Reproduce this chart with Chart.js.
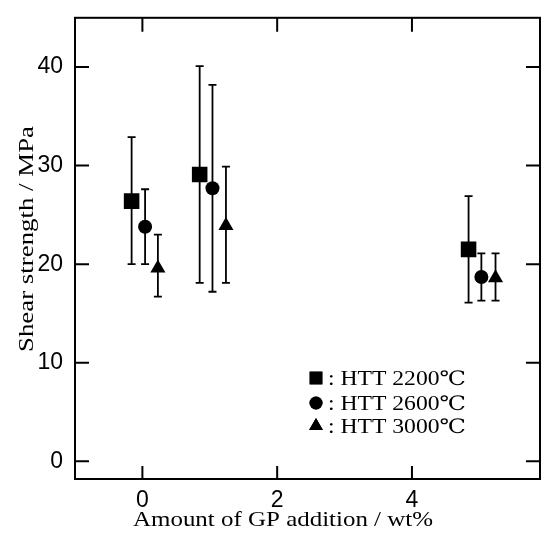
<!DOCTYPE html>
<html>
<head>
<meta charset="utf-8">
<script src="https://cdn.jsdelivr.net/npm/chart.js@4.4.1/dist/chart.umd.min.js"></script>
<style>
  html, body { margin: 0; padding: 0; background: #fff; }
  #wrap { width: 551px; height: 537px; }
</style>
</head>
<body>
<div id="wrap"><canvas id="c"></canvas></div>
<script>
// values
var seriesNames = [ 'HTT 2200\u2103', 'HTT 2600\u2103', 'HTT 3000\u2103' ];
var pointStyles = [ 'rect', 'circle', 'triangle' ];

var x2200  = [ -0.16, 0.85, 4.84 ];
var y2200  = [ 26.4, 29.1, 21.5 ];
var hi2200 = [ 32.9, 40.1, 26.9 ];
var lo2200 = [ 20.0, 18.1, 16.1 ];

var x2600  = [ 0.04, 1.04, 5.03 ];
var y2600  = [ 23.8, 27.7, 18.7 ];
var hi2600 = [ 27.6, 38.2, 21.1 ];
var lo2600 = [ 20.0, 17.2, 16.3 ];

var x3000  = [ 0.23, 1.24, 5.24 ];
var y3000  = [ 19.6, 23.9, 18.6 ];
var hi3000 = [ 23.0, 29.9, 21.1 ];
var lo3000 = [ 16.7, 18.1, 16.3 ];

var xTicks = [ 0, 2, 4 ];
var yTicks = [ 0, 10, 20, 30, 40 ];

function points( xs, ys, his, los ) {
    return xs.map( function( x, i ) {
        return { x: x, y: ys[ i ], hi: his[ i ], lo: los[ i ] };
    });
}

var sets = [
    points( x2200, y2200, hi2200, lo2200 ),
    points( x2600, y2600, hi2600, lo2600 ),
    points( x3000, y3000, hi3000, lo3000 )
];
var radii = [ 11, 7, 8.7 ];

/** Draw text stretched sideways to a given width (the scan is wide) */
function wideText( ctx, text, x, y, width ) {
    var w = ctx.measureText( text ).width;
    ctx.save();
    ctx.translate( x, y );
    ctx.scale( width / w, 1 );
    ctx.fillText( text, 0, 0 );
    ctx.restore();
}

/** Error bars, frame, inward ticks, titles and the in-plot key */
var decor = {
    id: 'decor',
    beforeDatasetsDraw: function( chart ) {
        var ctx = chart.ctx, xs = chart.scales.x, ys = chart.scales.y;
        ctx.save();
        ctx.strokeStyle = '#000';
        ctx.lineWidth = 1.8;
        chart.data.datasets.forEach( function( ds ) {
            ds.data.forEach( function( p ) {
                var px = xs.getPixelForValue( p.x );
                var top = ys.getPixelForValue( p.hi );
                var bot = ys.getPixelForValue( p.lo );
                ctx.beginPath();
                ctx.moveTo( px, top ); ctx.lineTo( px, bot );
                ctx.moveTo( px - 4, top ); ctx.lineTo( px + 4, top );
                ctx.moveTo( px - 4, bot ); ctx.lineTo( px + 4, bot );
                ctx.stroke();
            });
        });
        ctx.restore();
    },
    afterDraw: function( chart ) {
        var ctx = chart.ctx, a = chart.chartArea;
        var xs = chart.scales.x, ys = chart.scales.y;
        ctx.save();
        ctx.strokeStyle = '#000';
        ctx.lineWidth = 2;
        ctx.strokeRect( a.left, a.top, a.right - a.left, a.bottom - a.top );
        ctx.beginPath();
        xTicks.forEach( function( v ) {
            var px = xs.getPixelForValue( v );
            ctx.moveTo( px, a.bottom ); ctx.lineTo( px, a.bottom - 13 );
            ctx.moveTo( px, a.top ); ctx.lineTo( px, a.top + 14 );
        });
        yTicks.forEach( function( v ) {
            var py = ys.getPixelForValue( v );
            ctx.moveTo( a.left, py ); ctx.lineTo( a.left + 14, py );
            ctx.moveTo( a.right, py ); ctx.lineTo( a.right - 14, py );
        });
        ctx.stroke();

        // axis titles
        ctx.fillStyle = '#000';
        ctx.font = '22px "Liberation Serif", "DejaVu Serif", serif';
        ctx.textAlign = 'center';
        ctx.textBaseline = 'alphabetic';
        wideText( ctx, 'Amount of GP addition / wt%', 283, 526, 300 );
        ctx.save();
        ctx.translate( 33, 239 );
        ctx.rotate( -Math.PI / 2 );
        wideText( ctx, 'Shear strength / MPa', 0, 0, 226 );
        ctx.restore();

        // key
        ctx.textAlign = 'left';
        ctx.font = '20px "Liberation Serif", "DejaVu Serif", serif';
        var rows = [ 378, 403, 426 ];
        var keyR = [ 9, 6.5, 8 ];
        seriesNames.forEach( function( name, i ) {
            Chart.helpers.drawPoint( ctx, {
                pointStyle: pointStyles[ i ], radius: keyR[ i ], rotation: 0, borderWidth: 0
            }, 316, rows[ i ] );
            ctx.fill();
            wideText( ctx, ': ' + name, 328, rows[ i ] + 7, 138 );
        });
        ctx.restore();
    }
};

new Chart( document.getElementById( 'c' ), {
    type: 'scatter',
    data: {
        datasets: sets.map( function( d, i ) {
            return {
                label: seriesNames[ i ],
                data: d,
                pointStyle: pointStyles[ i ],
                pointRadius: radii[ i ],
                pointHoverRadius: radii[ i ],
                backgroundColor: '#000',
                borderColor: '#000',
                borderWidth: 0
            };
        })
    },
    options: {
        responsive: true,
        maintainAspectRatio: false,
        animation: false,
        events: [],
        layout: { padding: { top: 10, right: 5, left: 0, bottom: 0 } },
        plugins: { legend: { display: false }, tooltip: { enabled: false } },
        scales: {
            x: {
                type: 'linear', min: -1, max: 5.9,
                grid: { display: false },
                border: { display: false },
                afterBuildTicks: function( s ) { s.ticks = xTicks.map( function( v ) { return { value: v }; } ); },
                afterFit: function( s ) { s.height = 58; },
                ticks: {
                    padding: 0, color: '#000', maxRotation: 0,
                    font: { family: '"Liberation Sans", Arial, sans-serif', size: 23 }
                }
            },
            y: {
                type: 'linear', min: -1.8, max: 45,
                grid: { display: false },
                border: { display: false },
                afterBuildTicks: function( s ) { s.ticks = yTicks.map( function( v ) { return { value: v }; } ); },
                afterFit: function( s ) { s.width = 75; },
                ticks: {
                    padding: 4, color: '#000',
                    font: { family: '"Liberation Sans", Arial, sans-serif', size: 23 }
                }
            }
        }
    },
    plugins: [ decor ]
});
</script>
</body>
</html>
